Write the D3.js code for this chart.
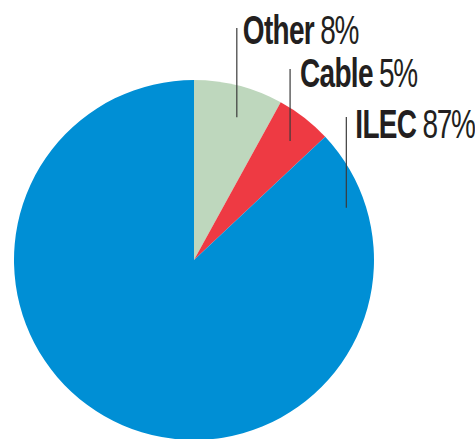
<!DOCTYPE html>
<html>
<head>
<meta charset="utf-8">
<script src="https://cdn.jsdelivr.net/npm/d3@7"></script>
<style>
  html, body { margin: 0; padding: 0; background: #fff; }
  svg { display: block; }
</style>
</head>
<body>
<script>
'use strict';

// carriers and their share (%)
const categories = ["Other", "Cable", "ILEC"];
const shares = [8, 5, 87];
const colors = ["#bed7bd", "#ee3a43", "#008fd5"];

const width = 475, height = 439;
const cx = 194, cy = 260, radius = 180;

// where each leader line meets its slice, and where the label sits
const layout = [
  { angle: 16.7, r: 149, top: 28, base: 44, gap: 6 },
  { angle: 38.9, r: 153, top: 69, base: 87, gap: 10 },
  { angle: 71.1, r: 161, top: 117, base: 138, gap: 9 }
];

const data = categories.map((c, i) => ({ name: c, value: shares[i], color: colors[i] }));

const svg = d3.select("body").append("svg")
    .attr("width", width)
    .attr("height", height);

const pie = d3.pie()
    .sort(null)
    .value(d => d.value);

const arc = d3.arc()
    .innerRadius(0)
    .outerRadius(radius);

const g = svg.append("g")
    .attr("transform", "translate(" + cx + "," + cy + ")");

g.selectAll("path")
    .data(pie(data))
    .enter().append("path")
    .attr("d", arc)
    .attr("fill", d => d.data.color);

// labels with vertical leader lines
const labels = svg.append("g");

data.forEach((d, i) => {
    const l = layout[i];
    const a = l.angle * Math.PI / 180;
    const x = cx + l.r * Math.sin(a),
        y = cy - l.r * Math.cos(a);

    labels.append("line")
        .attr("x1", x).attr("x2", x)
        .attr("y1", l.top).attr("y2", y)
        .attr("stroke", "#3a3a3a")
        .attr("stroke-width", 1.2);

    // condensed look: squeeze the narrow face horizontally
    const t = labels.append("text")
        .attr("transform", "translate(" + (x + l.gap) + "," + l.base + ") scale(0.7,1)")
        .attr("fill", "#231f20")
        .style("font-family", "'Liberation Sans Narrow', 'Arial Narrow', sans-serif")
        .style("font-size", "40px");

    t.append("tspan")
        .style("font-weight", "bold")
        .style("letter-spacing", "-1px")
        .text(d.name);
    t.append("tspan")
        .attr("dx", 9)
        .style("font-weight", "normal")
        .style("letter-spacing", "-2px")
        .text(d.value + "%");
});
</script>
</body>
</html>
